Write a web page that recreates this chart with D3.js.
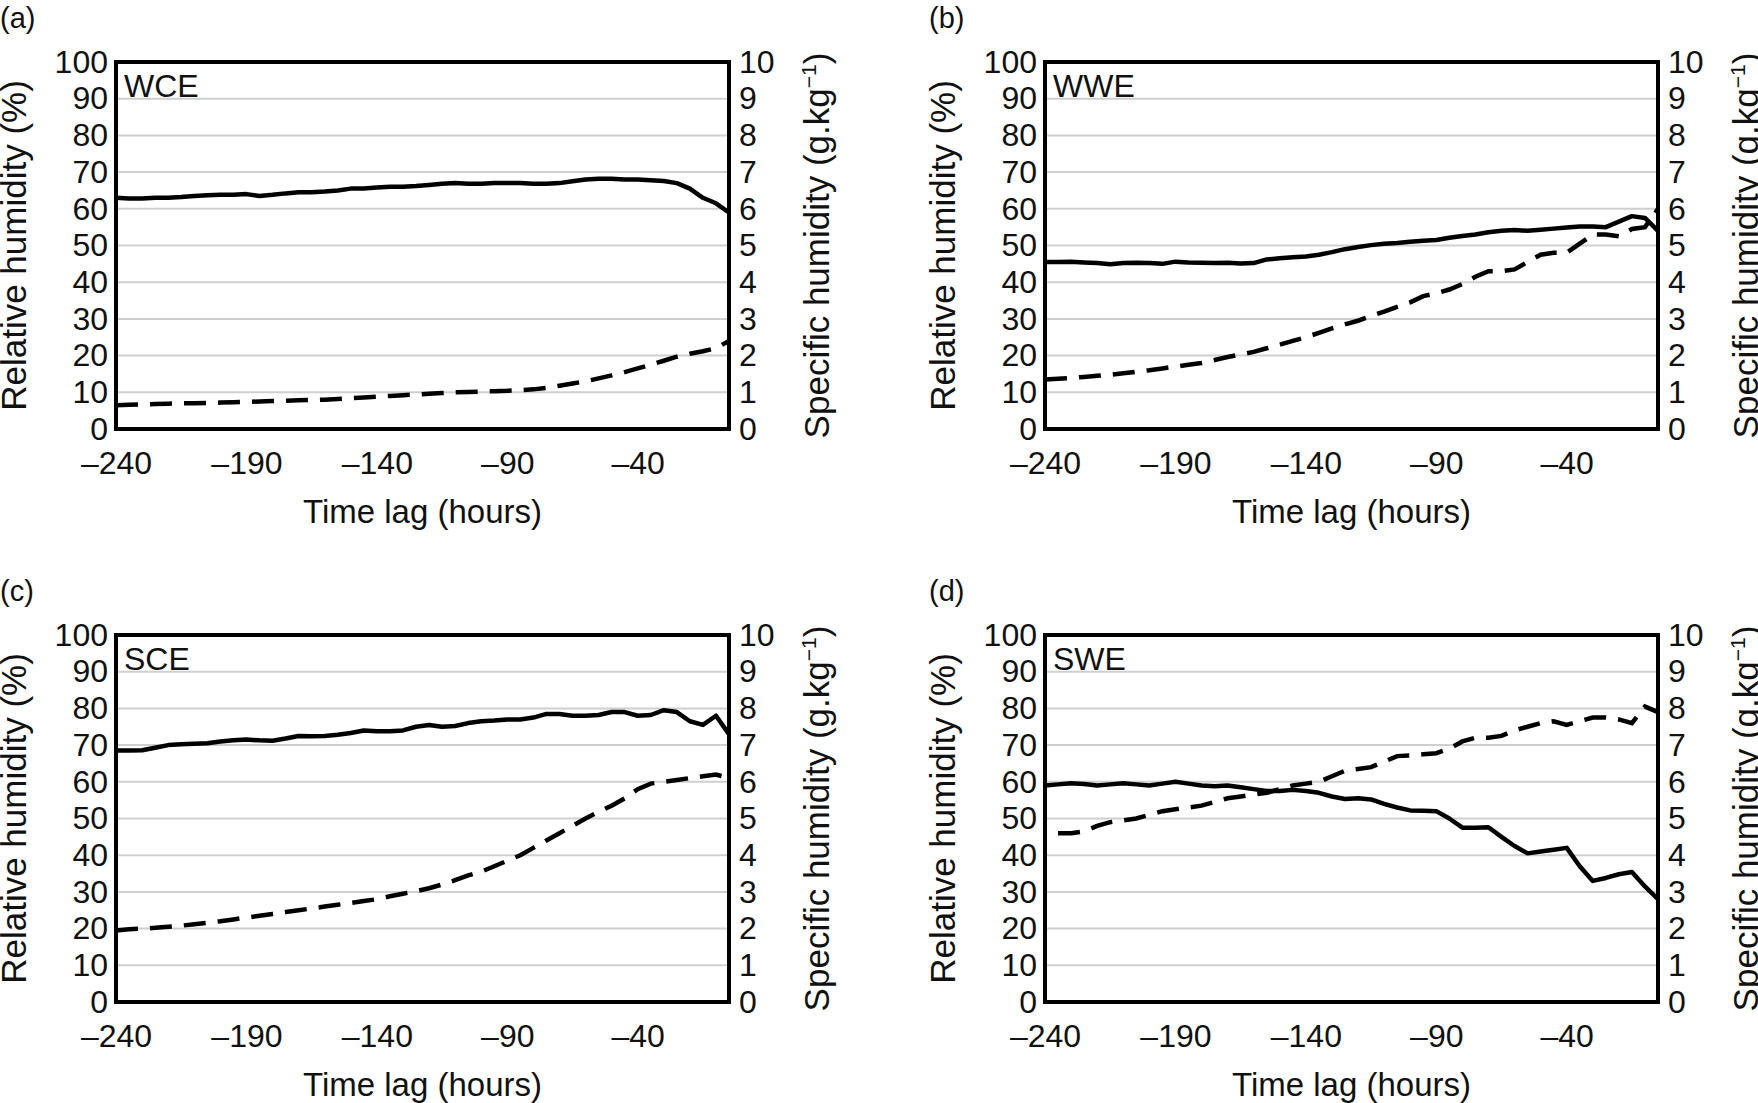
<!DOCTYPE html>
<html><head><meta charset="utf-8">
<script src="https://cdn.jsdelivr.net/npm/d3@7"></script>
<style>body{margin:0;background:#fff}text{font-family:"Liberation Sans",Arial,sans-serif;fill:#111}</style>
</head><body><svg id="c" width="1758" height="1103"></svg>
<script>
const hours=[-240,-235,-230,-225,-220,-215,-210,-205,-200,-195,-190,-185,-180,-175,-170,-165,-160,-155,-150,-145,-140,-135,-130,-125,-120,-115,-110,-105,-100,-95,-90,-85,-80,-75,-70,-65,-60,-55,-50,-45,-40,-35,-30,-25,-20,-15,-10,-5];
const xTicks=[-240,-190,-140,-90,-40];
const rhTicks=[0,10,20,30,40,50,60,70,80,90,100];
const shTicks=[0,1,2,3,4,5,6,7,8,9,10];
const panelLetters=["(a)","(b)","(c)","(d)"];
const regions=["WCE","WWE","SCE","SWE"];
const rhA=[63,62.8,62.8,63,63,63.2,63.5,63.7,63.8,63.8,64,63.5,63.8,64.2,64.5,64.5,64.7,65,65.5,65.5,65.8,66,66,66.2,66.5,66.8,67,66.8,66.8,67,67,67,66.8,66.8,67,67.5,68,68.2,68.2,68,68,67.8,67.6,67,65.5,63,61.5,59];
const shA=[0.65,0.66,0.67,0.68,0.69,0.70,0.70,0.71,0.72,0.73,0.74,0.75,0.76,0.77,0.78,0.79,0.80,0.82,0.84,0.86,0.88,0.90,0.92,0.94,0.96,0.98,1.0,1.01,1.02,1.03,1.04,1.06,1.08,1.12,1.18,1.24,1.30,1.38,1.46,1.55,1.65,1.75,1.86,1.97,2.05,2.12,2.2,2.4];
const rhB=[45.5,45.5,45.6,45.4,45.2,44.9,45.2,45.3,45.2,45.0,45.6,45.4,45.3,45.2,45.3,45.1,45.2,46.2,46.5,46.8,47,47.5,48.2,49,49.6,50.1,50.5,50.7,51,51.3,51.5,52.1,52.6,53,53.6,54,54.2,54,54.3,54.6,54.9,55.2,55.2,55,56.5,58,57.5,54];
const shB=[1.35,1.37,1.39,1.42,1.45,1.48,1.52,1.56,1.6,1.65,1.7,1.75,1.8,1.88,1.96,2.03,2.1,2.2,2.3,2.4,2.5,2.62,2.74,2.85,2.95,3.08,3.2,3.33,3.45,3.62,3.7,3.8,3.95,4.15,4.3,4.3,4.35,4.55,4.75,4.8,4.8,5.05,5.3,5.3,5.25,5.45,5.5,6.0];
const rhC=[68.5,68.5,68.6,69.3,70,70.2,70.4,70.5,71,71.3,71.5,71.3,71.2,71.8,72.5,72.4,72.5,72.8,73.3,74,73.8,73.8,74,75,75.5,75,75.2,76,76.5,76.7,77,77,77.5,78.5,78.5,78,78,78.2,79,79,78,78.2,79.5,79,76.5,75.5,78,73];
const shC=[1.95,1.98,2.0,2.02,2.05,2.08,2.12,2.16,2.2,2.25,2.3,2.35,2.4,2.45,2.5,2.55,2.6,2.65,2.7,2.75,2.8,2.88,2.95,3.02,3.1,3.2,3.32,3.45,3.55,3.7,3.85,4.0,4.2,4.4,4.6,4.8,5.0,5.18,5.35,5.55,5.8,5.95,6.0,6.05,6.1,6.15,6.2,6.1];
const rhD=[59,59.3,59.6,59.4,59,59.3,59.6,59.3,59,59.5,60,59.5,59,58.8,59,58.5,58,57.5,57.5,57.8,57.5,57,56,55.3,55.5,55.2,54,53,52.2,52.1,52,50,47.5,47.5,47.6,45,42.5,40.5,41,41.5,42,37,33,33.8,34.8,35.4,31.5,28];
const shD=[null,4.6,4.6,4.65,4.8,4.9,4.95,5.0,5.1,5.2,5.25,5.3,5.35,5.45,5.55,5.6,5.65,5.7,5.8,5.9,5.95,6.0,6.15,6.3,6.35,6.4,6.55,6.7,6.72,6.75,6.78,6.9,7.1,7.2,7.2,7.25,7.4,7.5,7.6,7.65,7.55,7.65,7.75,7.75,7.7,7.6,8.05,7.9];
const rhAll=[rhA,rhB,rhC,rhD], shAll=[shA,shB,shC,shD];

const svg=d3.select("#c");
const W=613,H=367;
const origins=[[116,62],[1045,62],[116,635],[1045,635]];
const fs=32;
origins.forEach(([ox,oy],p)=>{
  svg.append("text").attr("x",ox-116).attr("y",oy-34).attr("font-size",29).text(panelLetters[p]);
  const g=svg.append("g").attr("transform",`translate(${ox},${oy})`);
  const x=d3.scaleLinear().domain([-240,-5]).range([0,W]);
  const yL=d3.scaleLinear().domain([0,100]).range([H,0]);
  const yR=d3.scaleLinear().domain([0,10]).range([H,0]);
  g.selectAll(".grid").data(rhTicks.slice(1,-1)).join("line")
    .attr("x1",0).attr("x2",W).attr("y1",d=>yL(d)).attr("y2",d=>yL(d))
    .attr("stroke","#cfcfcf").attr("stroke-width",2);
  const ax=d3.axisBottom(x).tickValues(xTicks).tickSize(0).tickPadding(22).tickFormat(d=>String(d).replace("-","\u2013"));
  const gx=g.append("g").attr("transform",`translate(0,${H})`).call(ax);
  const al=d3.axisLeft(yL).tickValues(rhTicks).tickSize(0).tickPadding(8);
  const gl=g.append("g").call(al);
  const ar=d3.axisRight(yR).tickValues(shTicks).tickSize(0).tickPadding(10);
  const gr=g.append("g").attr("transform",`translate(${W},0)`).call(ar);
  [gx,gl,gr].forEach(a=>{a.select(".domain").remove();a.selectAll("text").attr("font-size",fs).attr("font-family","Liberation Sans, Arial, sans-serif").attr("fill","#111");});
  const lineL=d3.line().defined(d=>d[1]!=null).x(d=>x(d[0])).y(d=>yL(d[1]));
  const lineR=d3.line().defined(d=>d[1]!=null).x(d=>x(d[0])).y(d=>yR(d[1]));
  g.append("path").datum(hours.map((h,i)=>[h,shAll[p][i]])).attr("d",lineR)
    .attr("fill","none").attr("stroke","#000").attr("stroke-width",4.5).attr("stroke-dasharray","22,12");
  g.append("path").datum(hours.map((h,i)=>[h,rhAll[p][i]])).attr("d",lineL)
    .attr("fill","none").attr("stroke","#000").attr("stroke-width",4.5).attr("stroke-linejoin","round");
  g.append("rect").attr("width",W).attr("height",H).attr("fill","none").attr("stroke","#000").attr("stroke-width",4);
  g.append("text").attr("x",8).attr("y",35).attr("font-size",fs).text(regions[p]);
  g.append("text").attr("transform",`translate(-90,${H/2}) rotate(-90)`).attr("text-anchor","middle").attr("font-size",35).text("Relative humidity (%)");
  const tr=g.append("text").attr("transform",`translate(${W+100},${H/2}) rotate(-90)`).attr("text-anchor","middle").attr("font-size",35);
  tr.append("tspan").text("Specific humidity (g.kg");
  tr.append("tspan").attr("font-size",21).attr("dy",-13).text("\u22121");
  tr.append("tspan").attr("dy",13).text(")");
  g.append("text").attr("x",W/2).attr("y",H+94).attr("text-anchor","middle").attr("font-size",33).text("Time lag (hours)");
});
</script></body></html>
